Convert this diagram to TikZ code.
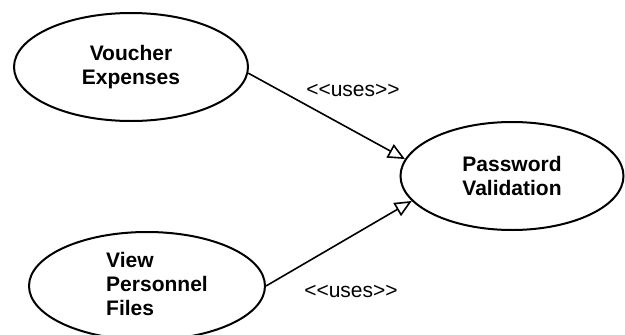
\documentclass[tikz,border=0pt]{standalone}
\usepackage{fontspec}
\setmainfont{Liberation Sans}
\usetikzlibrary{shapes.geometric,arrows.meta}
\begin{document}
\begin{tikzpicture}[x=1pt,y=-1pt,
  usecase/.style={ellipse,draw,line width=2pt,inner sep=0pt,font=\fontsize{21}{24}\selectfont\bfseries,align=center},
  usetext/.style={font=\fontsize{21}{24}\selectfont\bfseries,align=left,inner sep=0pt},
  stereo/.style={font=\fontsize{21}{24}\selectfont,inner sep=0pt},
  uses/.style={line width=1.6pt,-{Triangle[open,length=17pt,width=15pt,line width=1.6pt]}}]
\clip (0,0) rectangle (625,335);
\fill[white] (0,0) rectangle (625,335);
\node[usecase,minimum width=234pt,minimum height=108pt] (ve) at (131,67) {Voucher\\Expenses};
\node[usecase,minimum width=236pt,minimum height=108pt] (vp) at (147,286) {};
\node[usetext] (vpt) at (157,284) {View\\Personnel\\Files};
\node[usecase,minimum width=223pt,minimum height=108pt] (pw) at (512,176) {Password\\Validation};
\draw[uses] (ve.-3.4) -- (pw.171.5);
\draw[uses] (vp.0) -- (pw.194.7);
\node[stereo] (l1) at (353,90) {<{}<uses>{}>};
\node[stereo] (l2) at (351,291) {<{}<uses>{}>};
\end{tikzpicture}
\end{document}
